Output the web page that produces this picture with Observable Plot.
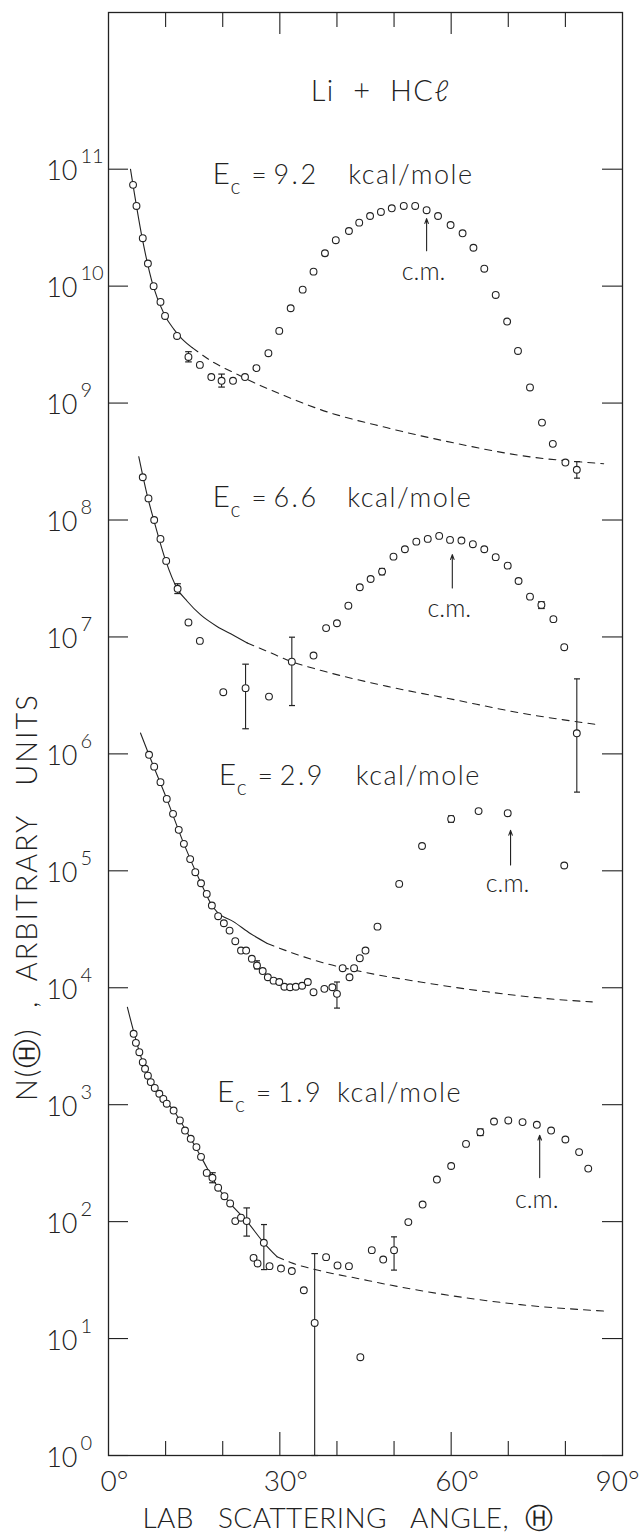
<!DOCTYPE html>
<html>
<head>
<meta charset="utf-8">
<script src="https://cdn.jsdelivr.net/npm/d3@7"></script>
<script src="https://cdn.jsdelivr.net/npm/@observablehq/plot@0.6"></script>
<style>
  html, body { margin: 0; padding: 0; background: #fff; }
  svg text { white-space: pre; }
  text[aria-label="y title"] { letter-spacing: 1.9px; }
  text[aria-label="x title"] { letter-spacing: 0.4px; }
  text[aria-label="panel title"] { letter-spacing: 1.4px; }
  text[aria-label="unit"] { letter-spacing: 1.5px; }
  text[aria-label="energy"] { letter-spacing: 2.5px; }
</style>
</head>
<body>
<div id="chart"></div>
<script>
// Li + HCl scattered intensity N(Θ) vs laboratory angle, four collision energies.
// Each series: [lab angle (deg), N (arbitrary units)]

const scan92 = [
  [4.3, 7.35e10], [4.9, 4.85e10], [6.0, 2.57e10], [6.9, 1.56e10], [7.9, 1.00e10],
  [9.1, 7.33e9], [9.9, 5.56e9], [12.0, 3.75e9], [14.0, 2.48e9], [16.0, 2.12e9],
  [18.0, 1.67e9], [19.8, 1.55e9], [21.8, 1.55e9], [23.9, 1.67e9], [25.9, 1.99e9],
  [28.0, 2.67e9], [29.9, 4.14e9], [31.9, 6.47e9], [34.0, 9.33e9], [35.9, 1.33e10],
  [37.9, 1.91e10], [39.8, 2.47e10], [42.1, 2.96e10], [43.9, 3.49e10], [45.8, 3.98e10],
  [47.7, 4.31e10], [49.6, 4.63e10], [51.7, 4.85e10], [53.7, 4.85e10], [55.7, 4.46e10],
  [57.7, 3.98e10], [59.9, 3.33e10], [62.0, 2.83e10], [63.9, 2.13e10], [65.8, 1.41e10],
  [67.8, 8.41e9], [69.8, 4.98e9], [71.7, 2.79e9], [73.8, 1.36e9], [75.9, 6.81e8],
  [77.8, 4.48e8], [80.0, 3.10e8], [82.0, 2.69e8]
];

const scan66 = [
  [6.0, 2.32e8], [7.0, 1.53e8], [8.0, 1.00e8], [9.1, 6.89e7], [10.1, 4.47e7],
  [12.1, 2.58e7], [14.0, 1.33e7], [16.0, 9.25e6], [20.1, 3.37e6], [24.0, 3.65e6],
  [28.1, 3.09e6], [32.1, 6.15e6], [35.9, 6.93e6], [38.1, 1.19e7], [40.0, 1.31e7],
  [42.0, 1.85e7], [44.0, 2.66e7], [45.9, 3.13e7], [47.9, 3.62e7], [49.9, 4.86e7],
  [51.9, 5.62e7], [53.9, 6.53e7], [55.9, 6.89e7], [57.9, 7.31e7], [59.8, 6.76e7],
  [61.8, 6.67e7], [63.8, 6.21e7], [65.8, 5.62e7], [67.8, 4.81e7], [69.9, 4.07e7],
  [71.8, 3.01e7], [73.8, 2.21e7], [75.8, 1.88e7], [77.9, 1.42e7], [79.8, 8.17e6],
  [82.0, 1.50e6]
];

const scan29 = [
  [7.1, 9.82e5], [8.0, 7.78e5], [9.1, 5.73e5], [10.2, 4.12e5], [11.3, 3.07e5],
  [12.3, 2.24e5], [13.2, 1.70e5], [14.3, 1.26e5], [15.2, 9.73e4], [16.2, 7.83e4],
  [17.2, 6.35e4], [18.1, 5.05e4], [19.2, 4.09e4], [20.2, 3.56e4], [21.2, 3.08e4],
  [22.2, 2.50e4], [23.2, 2.08e4], [24.1, 2.08e4], [25.1, 1.77e4], [26.0, 1.55e4],
  [27.0, 1.39e4], [27.9, 1.23e4], [28.9, 1.15e4], [29.9, 1.12e4], [30.8, 1.02e4],
  [31.8, 1.01e4], [32.8, 1.02e4], [33.9, 1.04e4], [34.9, 1.12e4], [35.9, 9.16e3],
  [37.8, 9.79e3], [39.2, 1.01e4], [40.0, 8.87e3], [41.0, 1.47e4], [42.2, 1.23e4],
  [43.0, 1.47e4], [44.0, 1.79e4], [45.0, 2.08e4], [47.1, 3.33e4], [50.9, 7.73e4],
  [54.9, 1.63e5], [60.0, 2.78e5], [64.8, 3.24e5], [69.9, 3.11e5], [79.8, 1.11e5]
];

const scan19 = [
  [4.4, 4040], [4.8, 3380], [5.4, 2810], [6.0, 2310], [6.4, 2030], [6.9, 1770],
  [7.4, 1560], [8.1, 1390], [8.9, 1240], [9.6, 1120], [10.2, 1020], [11.4, 891],
  [12.5, 733], [13.4, 601], [14.4, 511], [15.4, 434], [16.2, 358], [17.2, 261],
  [18.2, 237], [19.2, 195], [20.3, 165], [21.3, 143], [22.2, 101], [23.2, 108],
  [24.2, 101], [25.4, 49.0], [26.1, 43.9], [27.2, 65.9], [28.2, 41.6], [30.2, 39.7],
  [32.1, 37.8], [34.2, 25.9], [36.1, 13.6], [38.1, 49.7], [40.1, 42.2], [42.1, 41.6],
  [44.1, 6.93], [46.1, 57.0], [48.1, 47.4], [50.0, 57.0], [52.5, 99.1], [55.0, 140],
  [57.5, 229], [60.0, 299], [62.6, 462], [65.1, 582], [67.5, 718], [70.0, 733],
  [72.5, 710], [75.0, 673], [77.5, 601], [80.0, 504], [82.4, 393], [84.0, 284]
];

// Error bars: [angle, low, high]
const errors = [
  [14.0, 2.25e9, 2.75e9], [19.8, 1.37e9, 1.77e9], [82.0, 2.28e8, 3.16e8],
  [12.1, 2.35e7, 2.85e7], [24.0, 1.64e6, 5.85e6], [32.1, 2.59e6, 9.95e6],
  [47.9, 3.40e7, 3.85e7], [75.8, 1.75e7, 2.00e7], [82.0, 4.71e5, 4.38e6],
  [26.0, 1.45e4, 1.70e4], [40.0, 6.70e3, 1.12e4], [60.0, 2.60e5, 2.95e5],
  [18.2, 215, 262], [24.2, 75.2, 131], [27.2, 38.9, 94.4], [36.1, 1, 53.3],
  [50.0, 38.5, 74.1], [65.1, 545, 620]
];

// Elastic-scattering fits: solid where fitted, dashed extrapolation
const fit92Solid = [[3.85, 1.0e11], [5.9, 2.57e10], [7.83, 1.0e10], [9.86, 5.62e9], [11.43, 4.29e9], [12.9, 3.52e9], [14.65, 2.98e9]];
const fit92Dashed = [[14.65, 2.98e9], [18.44, 2.22e9], [21.94, 1.82e9], [25.44, 1.50e9], [31.9, 1.10e9], [37.12, 8.79e8], [48.8, 6.14e8], [60.5, 4.56e8], [72.14, 3.56e8], [86.7, 3.03e8]];
const fit66Solid = [[5.3, 3.48e8], [6.88, 1.55e8], [7.93, 1.0e8], [10.03, 4.47e7], [12.03, 2.59e7], [13.78, 2.02e7], [16.1, 1.55e7], [19.0, 1.23e7], [21.94, 1.03e7], [24.3, 8.89e6]];
const fit66Dashed = [[24.3, 8.89e6], [27.8, 7.53e6], [32.0, 6.17e6], [37.1, 5.19e6], [48.8, 3.78e6], [60.5, 2.91e6], [72.1, 2.24e6], [85.6, 1.78e6]];
const fit29Solid = [[5.6, 1.51e6], [7.1, 9.77e5], [10.2, 4.12e5], [13.2, 1.70e5], [16.2, 7.83e4], [18.12, 5.05e4], [19.0, 4.46e4], [21.94, 3.66e4], [24.9, 2.90e4], [27.8, 2.39e4]];
const fit29Dashed = [[27.8, 2.39e4], [33.6, 1.88e4], [37.1, 1.66e4], [44.7, 1.36e4], [54.6, 1.12e4], [66.3, 9.23e3], [78.0, 7.98e3], [84.7, 7.57e3]];
const fit19Solid = [[3.3, 6820], [6.0, 2310], [8.9, 1240], [11.4, 891], [14.4, 511], [16.2, 358], [19.2, 195], [21.3, 143], [24.2, 101], [27.2, 65.9], [29.5, 50.1]];
const fit19Dashed = [[29.5, 50.1], [31.9, 44.7], [37.1, 38.0], [44.0, 32.4], [48.8, 29.0], [60.5, 23.1], [72.1, 19.5], [86.7, 17.2]];

// Panel labels: collision energy (kcal/mole), where the label starts [angle, N],
// and the angle where its unit text starts
const energies = [9.2, 6.6, 2.9, 1.9];
const energyLabelAt = [[18.2, 7.53e10], [18.2, 1.28e8], [19.3, 5.47e5], [19.0, 1.06e3]];
const unitLabelAngle = [42.0, 41.8, 43.3, 40.0];

// Centre-of-mass arrows: [angle, tail N, tip N, label N]
const cmMarks = [
  [55.7, 2.01e10, 3.78e10, 1.33e10],
  [60.2, 2.62e7, 5.06e7, 1.75e7],
  [70.4, 1.12e5, 2.22e5, 7.78e4],
  [75.5, 238, 548, 153]
];

// Axis ticks and labels
const decades = [0, 1, 2, 3, 4, 5, 6, 7, 8, 9, 10, 11];
const angleMinor = [10, 20, 40, 50, 70, 80];
const angleMajor = [30, 60];
const angleLabels = [0, 30, 60];
const angleLabelEnd = [90];

const W = 640, H = 1536;
const mL = 108, mR = 18, mT = 12, mB = 81;
const innerW = W - mL - mR;
const innerH = H - mT - mB;
const ink = "#222";
const FONT = "Lato, 'Open Sans', 'DejaVu Sans', sans-serif";
const txt = {fill: ink, fontFamily: FONT, fontWeight: 300};
const tag = name => ({ariaLabel: () => name});

const lineStyle = {x: d => d[0], y: d => d[1], curve: "monotone-x", stroke: ink, strokeWidth: 1.1};
const dotStyle = {x: d => d[0], y: d => d[1], r: 3.4, stroke: ink, strokeWidth: 1.1, fill: "white"};

const labels = energies.map((e, i) => ({e, x: energyLabelAt[i][0], y: energyLabelAt[i][1], ux: unitLabelAngle[i]}));

const chart = Plot.plot({
  width: W,
  height: H,
  marginLeft: mL,
  marginRight: mR,
  marginTop: mT,
  marginBottom: mB,
  style: {background: "white", fontFamily: FONT},
  x: {domain: [0, 90], axis: null},
  y: {type: "log", domain: [1, 10 ** 12.34], axis: null},
  marks: [
    Plot.frame({stroke: ink, strokeWidth: 1.3}),

    // inward ticks on all four sides
    Plot.tickY(decades.map(d => 10 ** d), {y: d => d, insetRight: innerW - 20, stroke: ink, strokeWidth: 1.1}),
    Plot.tickY(decades.map(d => 10 ** d), {y: d => d, insetLeft: innerW - 20, stroke: ink, strokeWidth: 1.1}),
    Plot.tickX(angleMinor, {x: d => d, insetTop: innerH - 14, stroke: ink, strokeWidth: 1.1}),
    Plot.tickX(angleMajor, {x: d => d, insetTop: innerH - 23, stroke: ink, strokeWidth: 1.1}),
    Plot.tickX(angleMinor, {x: d => d, insetBottom: innerH - 15, stroke: ink, strokeWidth: 1.1}),
    Plot.tickX(angleMajor, {x: d => d, insetBottom: innerH - 22, stroke: ink, strokeWidth: 1.1}),

    // y tick labels: 10 with superscript exponent
    Plot.text(decades, {x: 0, y: d => 10 ** d, text: () => "10", textAnchor: "end", lineAnchor: "bottom", dx: -31, dy: 11, fontSize: 27, ...txt}),
    Plot.text(decades, {x: 0, y: d => 10 ** d, text: d => String(d), textAnchor: "start", lineAnchor: "bottom", dx: -28, dy: -6, fontSize: 20, ...txt}),

    // x tick labels
    Plot.text(angleLabels, {x: d => d, y: 1, text: d => `${d}°`, textAnchor: "middle", lineAnchor: "bottom", dx: 6, dy: 35, fontSize: 28, ...txt}),
    Plot.text(angleLabelEnd, {x: d => d, y: 1, text: d => `${d}°`, textAnchor: "end", lineAnchor: "bottom", dx: 17, dy: 35, fontSize: 28, ...txt}),

    // axis titles
    Plot.text(["LAB   SCATTERING   ANGLE,  Ⓗ"], {text: d => d, frameAnchor: "bottom-left", textAnchor: "start", lineAnchor: "bottom", dx: 34, dy: 72, fontSize: 28, ...tag("x title"), ...txt}),
    Plot.text(["N(Ⓗ)  ,  ARBITRARY   UNITS"], {text: d => d, frameAnchor: "left", rotate: -90, textAnchor: "start", lineAnchor: "middle", dx: -81, dy: 367, fontSize: 29, ...tag("y title"), ...txt}),

    // title inside the frame
    Plot.text(["Li  +  HCℓ"], {x: 35.4, y: 10 ** 11.586, text: d => d, textAnchor: "start", lineAnchor: "bottom", fontSize: 29, ...tag("panel title"), ...txt}),

    // energy labels
    Plot.text(labels, {x: "x", y: "y", text: () => "E", textAnchor: "start", lineAnchor: "bottom", fontSize: 30, ...txt}),
    Plot.text(labels, {x: "x", y: "y", text: () => "c", textAnchor: "start", lineAnchor: "bottom", dx: 18, dy: 10, fontSize: 21, ...txt}),
    Plot.text(labels, {x: "x", y: "y", text: () => "=", textAnchor: "start", lineAnchor: "bottom", dx: 39, fontSize: 26, ...txt}),
    Plot.text(labels, {x: "x", y: "y", text: d => d.e.toFixed(1), textAnchor: "start", lineAnchor: "bottom", dx: 61, fontSize: 27, ...tag("energy"), ...txt}),
    Plot.text(labels, {x: "ux", y: "y", text: () => "kcal/mole", textAnchor: "start", lineAnchor: "bottom", fontSize: 27, ...tag("unit"), ...txt}),

    // c.m. arrows
    Plot.arrow(cmMarks, {x1: d => d[0], x2: d => d[0], y1: d => d[1], y2: d => d[2], headLength: 7, headAngle: 40, stroke: ink, strokeWidth: 1.1}),
    Plot.text(cmMarks, {x: d => d[0], y: d => d[3], text: () => "c.m.", textAnchor: "middle", lineAnchor: "middle", dx: -3, fontSize: 25, ...txt}),

    // fitted curves
    Plot.line(fit92Solid, lineStyle),
    Plot.line(fit92Dashed, {...lineStyle, strokeDasharray: "7,6"}),
    Plot.line(fit66Solid, lineStyle),
    Plot.line(fit66Dashed, {...lineStyle, strokeDasharray: "7,6"}),
    Plot.line(fit29Solid, lineStyle),
    Plot.line(fit29Dashed, {...lineStyle, strokeDasharray: "7,6"}),
    Plot.line(fit19Solid, lineStyle),
    Plot.line(fit19Dashed, {...lineStyle, strokeDasharray: "7,6"}),

    // error bars
    Plot.link(errors, {x1: d => d[0], x2: d => d[0], y1: d => d[1], y2: d => d[2], marker: "tick", stroke: ink, strokeWidth: 1.1}),

    // measured points
    Plot.dot(scan92, dotStyle),
    Plot.dot(scan66, dotStyle),
    Plot.dot(scan29, dotStyle),
    Plot.dot(scan19, dotStyle)
  ]
});

document.getElementById("chart").appendChild(chart);
</script>
</body>
</html>
